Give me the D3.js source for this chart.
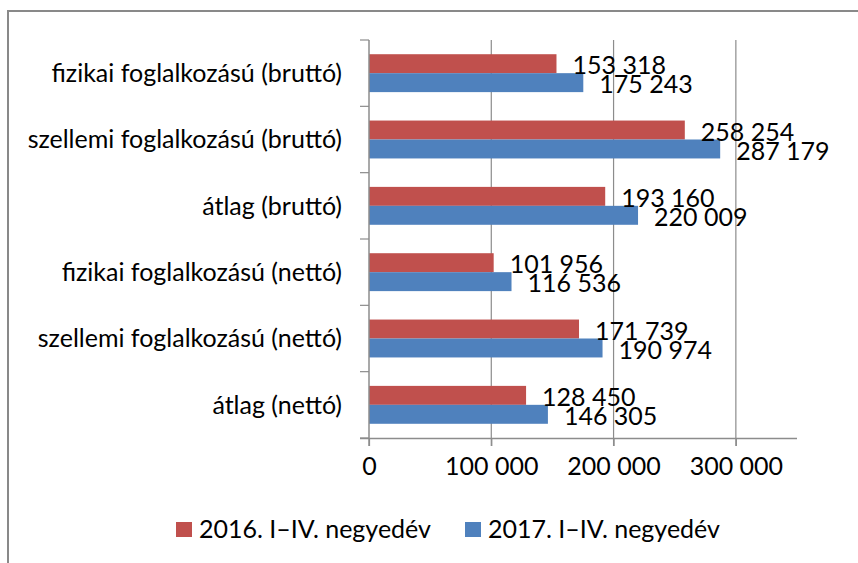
<!DOCTYPE html>
<html>
<head>
<meta charset="utf-8">
<script src="https://cdn.jsdelivr.net/npm/d3@7"></script>
<style>
  html, body { margin: 0; padding: 0; background: #fff; }
  svg { display: block; }
  text { font-family: Lato, "Open Sans", sans-serif; fill: #000; }
</style>
</head>
<body>
<svg id="chart" width="858" height="563"></svg>
<script>
const categories = [
  "fizikai foglalkozású (bruttó)",
  "szellemi foglalkozású (bruttó)",
  "átlag (bruttó)",
  "fizikai foglalkozású (nettó)",
  "szellemi foglalkozású (nettó)",
  "átlag (nettó)"
];
const seriesNames = ["2016. I–IV. negyedév", "2017. I–IV. negyedév"];
const values2016 = [153318, 258254, 193160, 101956, 171739, 128450];
const values2017 = [175243, 287179, 220009, 116536, 190974, 146305];
const xTicks = [0, 100000, 200000, 300000];
const colors = ["#C0504D", "#4F81BD"];

const FS = 25;
const svg = d3.select("#chart");
const locale = d3.formatLocale({decimal: ",", thousands: " ", grouping: [3], currency: ["", ""]});
const fmt = locale.format(",d");

// Border
svg.append("path")
  .attr("d", "M8,563 V11 H858")
  .attr("fill", "none").attr("stroke", "#898989").attr("stroke-width", 2);

const x = d3.scaleLinear().domain([0, 350000]).range([369, 797]);
const y = d3.scaleBand().domain(categories).range([40, 438]).paddingInner(0).paddingOuter(0);
const step = y.bandwidth();
const barH = step / 3.5;
const off = (step - 2 * barH) / 2;

// Gridlines
svg.append("g").selectAll("line").data(xTicks.slice(1)).join("line")
  .attr("x1", d => x(d)).attr("x2", d => x(d))
  .attr("y1", 40).attr("y2", 446)
  .attr("stroke", "#8c8c8c").attr("stroke-width", 1.2);

// Bars
const series = [values2016, values2017];
series.forEach((vals, si) => {
  const g = svg.append("g");
  g.selectAll("rect").data(vals).join("rect")
    .attr("x", x(0))
    .attr("y", (d, i) => y(categories[i]) + off + si * barH)
    .attr("width", d => x(d) - x(0))
    .attr("height", barH)
    .attr("fill", colors[si]);
});

// Axes
const xAxis = d3.axisBottom(x).tickValues(xTicks).tickSize(8).tickPadding(11).tickFormat(fmt);
const gx = svg.append("g").attr("transform", "translate(0,438)").call(xAxis);
gx.select(".domain").attr("d", "M360,0.5H797").attr("stroke", "#8c8c8c").attr("stroke-width", 1.5);
gx.selectAll(".tick line").attr("stroke", "#8c8c8c").attr("stroke-width", 1.2);
gx.selectAll(".tick text").attr("font-size", FS).attr("font-family", "Lato, sans-serif").attr("fill", "#000").attr("dy", "0.71em");

// Left axis
svg.append("line").attr("x1", 369).attr("x2", 369).attr("y1", 40).attr("y2", 446)
  .attr("stroke", "#8c8c8c").attr("stroke-width", 1.5);
const catTicks = d3.range(categories.length + 1).map(i => 40 + i * step);
svg.append("g").selectAll("line").data(catTicks).join("line")
  .attr("x1", 360).attr("x2", 369)
  .attr("y1", d => d).attr("y2", d => d)
  .attr("stroke", "#8c8c8c").attr("stroke-width", 1.2);

svg.append("g").selectAll("text").data(categories).join("text")
  .attr("x", 342)
  .attr("y", d => y(d) + step / 2)
  .attr("dy", "0.35em")
  .attr("text-anchor", "end")
  .attr("font-size", FS)
  .text(d => d);

// Data labels
series.forEach((vals, si) => {
  svg.append("g").selectAll("text").data(vals).join("text")
    .attr("x", d => x(d) + 16)
    .attr("y", (d, i) => y(categories[i]) + off + si * barH + barH / 2 + 2)
    .attr("dy", "0.35em")
    .attr("font-size", FS)
    .text(d => fmt(d));
});

// Legend
const legendX = [176, 465];
seriesNames.forEach((name, i) => {
  const g = svg.append("g").attr("transform", `translate(${legendX[i]},0)`);
  g.append("rect").attr("x", 0).attr("y", 522).attr("width", 16).attr("height", 15).attr("fill", colors[i]);
  g.append("text").attr("x", 23).attr("y", 529.5).attr("dy", "0.35em").attr("font-size", FS).text(name);
});
</script>
</body>
</html>
